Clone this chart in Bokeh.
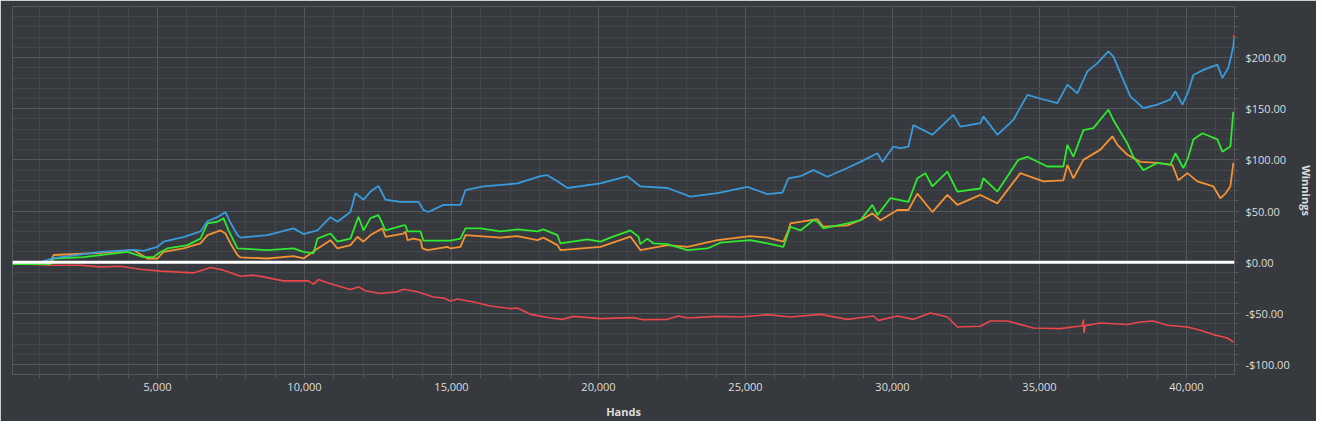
from bokeh.plotting import figure
from bokeh.models import (Range1d, SingleIntervalTicker, NumeralTickFormatter,
                          CustomJSTickFormatter, Span)
from bokeh.embed import file_html
from bokeh.resources import INLINE

# ---------------- data (hands, winnings in $) ----------------
hands_blue = [68, 1020, 1462, 3061, 4183, 4523, 5000, 5203, 5884, 6462, 6700, 7040, 7312, 7482,
              7720, 7823, 8741, 9625, 9965, 10441, 10883, 11121, 11563, 11733, 12006, 12244,
              12516, 12754, 13264, 13876, 14046, 14216, 14726, 15305, 15475, 16087, 17243,
              18025, 18263, 18603, 18944, 20066, 20984, 21426, 22345, 23127, 24045, 25065,
              25746, 26256, 26460, 26868, 27310, 27786, 28466, 28909, 29487, 29657, 30031,
              30269, 30541, 30711, 31357, 32071, 32310, 32990, 33092, 33568, 34112, 34588,
              35132, 35608, 35949, 36289, 36629, 36969, 37343, 37513, 37853, 38091, 38533,
              39009, 39452, 39622, 39860, 40064, 40234, 40574, 41050, 41220, 41424, 41492,
              41594, 41628]
won_blue = [0, 0, 4, 10, 12, 11, 15, 20, 24.5, 30, 40, 44, 49, 38.5, 26.5, 24, 26.5, 33, 27.5,
            31, 44, 39.5, 49, 67.5, 61, 69, 74.5, 61, 59, 59, 51, 49, 56, 56, 70.5, 74, 77, 84,
            85, 79, 72.5, 77, 84, 74, 72.5, 64, 67.5, 73.5, 66.5, 68, 82, 84, 90, 83.5, 92, 98,
            106.5, 98, 113, 111.5, 113, 134, 124.5, 144, 132.5, 136, 142.5, 124.5, 139, 163.5,
            159, 155.5, 173.5, 165, 186.5, 194.5, 206, 201, 178, 162, 150.5, 154, 159, 167,
            154, 167, 183, 188, 193, 180, 190, 198, 211, 221]

hands_green = [68, 1360, 1462, 2483, 3979, 4523, 4863, 5102, 5340, 6020, 6462, 6700, 7040,
               7244, 7414, 7720, 8741, 9625, 9965, 10305, 10441, 10883, 11121, 11563, 11835,
               12006, 12244, 12516, 12754, 13366, 13434, 13502, 13944, 14046, 14964, 15305,
               15475, 15985, 16665, 17243, 17923, 18127, 18603, 18706, 19624, 20066, 20406,
               21086, 21358, 21426, 21664, 21868, 22345, 23025, 23705, 24147, 25167, 25746,
               26290, 26426, 26528, 26868, 27310, 27446, 27650, 28466, 28909, 29317, 29487,
               29929, 30541, 30847, 31119, 31357, 31867, 32207, 32990, 33092, 33568, 34282,
               34588, 35268, 35813, 35949, 36153, 36493, 36833, 37343, 37513, 37989, 38193,
               38533, 39009, 39452, 39622, 39894, 40064, 40234, 40540, 41050, 41220, 41492,
               41560, 41594]
won_green = [-2, -2, 3.6, 5, 10, 5, 5, 10, 13.4, 16.7, 23, 38, 39.5, 43, 31, 13.4, 11.8, 13.4,
             10, 8.5, 23, 28, 20, 23, 44.4, 31, 43, 46, 31, 36, 36, 30, 30, 21, 21, 23, 33, 33,
             30, 32, 30, 32, 26.5, 18.3, 22.3, 20, 24, 31, 25, 17.6, 23, 18.3, 17.6, 11.8, 13.4,
             19, 21.5, 18.3, 15, 26.5, 34.6, 31, 41, 39.5, 33, 38, 41, 56, 46, 62.5, 59, 82, 87,
             74, 88.5, 69, 72, 82, 69, 100, 103, 93.5, 93.5, 114.7, 103, 129, 131, 149, 139,
             116, 103, 90, 97, 95, 106.5, 92, 103, 120, 126, 120, 108, 113, 136, 147]

hands_orange = [68, 1360, 1462, 3061, 4183, 4421, 4659, 5000, 5203, 5884, 6462, 6700, 7142,
                7312, 7482, 7720, 7823, 8741, 9625, 9965, 10373, 10883, 11121, 11563, 11801,
                12006, 12244, 12652, 12754, 13366, 13434, 13502, 13706, 13944, 14012, 14182,
                14862, 14964, 15305, 15475, 16665, 17243, 17923, 18127, 18603, 18706, 20066,
                21086, 21426, 22345, 23025, 24045, 25167, 25746, 26290, 26460, 26528, 27446,
                27650, 28466, 28909, 29317, 29589, 30167, 30541, 30847, 31357, 31867, 32207,
                32990, 33568, 34350, 35132, 35813, 35949, 36153, 36493, 37071, 37479, 37649,
                37989, 38431, 39009, 39520, 39724, 40030, 40370, 40914, 41152, 41322, 41492,
                41594]
won_orange = [0, 0.5, 7, 9, 11.8, 7.8, 3.6, 3.6, 10, 13.4, 18.3, 26.5, 31, 28, 18.3, 7, 4.6,
              3.6, 5.9, 3.6, 11.8, 21.5, 13.4, 16.7, 24.8, 20, 26.5, 33, 24.8, 28, 30, 21.5, 23,
              21.5, 13.4, 11.8, 15, 13.4, 15, 26.5, 24, 25.5, 21.5, 24, 16.7, 11.8, 15, 25, 11.8,
              16.7, 15, 21.5, 25.5, 24, 20, 31, 38, 42, 34.6, 36, 41, 47.7, 41, 51, 51, 67, 49,
              65.7, 56, 65.7, 57.5, 87, 79, 80, 95, 82, 100, 110, 123, 114.7, 105, 98, 97, 95,
              80, 87, 79, 74, 62.5, 67, 74, 97]

hands_red = [68, 1360, 2381, 3061, 3741, 4421, 5102, 6224, 6802, 7244, 7822, 8264, 8605, 9285,
             10135, 10305, 10475, 10883, 11121, 11563, 11835, 12074, 12584, 13162, 13366, 13842,
             14386, 14726, 14964, 15202, 15747, 16325, 17005, 17243, 17685, 18365, 18774, 19148,
             20066, 21188, 21528, 22345, 22719, 23025, 24045, 24827, 25746, 26528, 27548, 28466,
             29351, 29521, 30167, 30711, 31289, 31867, 32207, 32990, 33330, 33908, 34792, 35711,
             36391, 36459, 36493, 36510, 36561, 37071, 37989, 38431, 38873, 39350, 40030, 40472,
             40914, 41390, 41594]
won_red = [-1.3, -3, -3, -4.6, -4, -7, -8.8, -10.5, -5.2, -7.8, -13.7, -12.7, -14.4, -18.3,
           -18.3, -21.5, -17, -21, -23, -26.8, -24.2, -28, -30.7, -29, -26.5, -29, -34, -35, -38,
           -36, -39, -42.8, -45.4, -44.8, -51, -54.6, -55.9, -53, -55.2, -54.2, -56.2, -55.9,
           -52.6, -54.6, -53, -53.6, -51.3, -53.6, -51, -55.9, -52.6, -56.9, -52.6, -55.9, -49.7,
           -53.6, -63.4, -62.7, -57.5, -57.5, -64.4, -65, -62.4, -62, -56, -69, -62, -59.5, -61,
           -58.5, -57.5, -61.7, -63.4, -66.6, -70.8, -74.1, -78]

# ---------------- style ----------------
BG = "#36393d"
GRID_MINOR = "#43464a"
GRID_MAJOR = "#54575b"
TEXT = "#dedede"
FONT = "Open Sans"

p = figure(frame_width=1222, frame_height=368,
           x_range=Range1d(68, 41633), y_range=Range1d(-109.8, 249.9),
           output_backend="svg", toolbar_location=None, y_axis_location="right",
           min_border_left=12, min_border_top=6, min_border_right=0, min_border_bottom=0,
           background_fill_color=BG, border_fill_color=BG,
           outline_line_color=GRID_MAJOR)

p.xaxis.ticker = SingleIntervalTicker(interval=5000, num_minor_ticks=5)
p.yaxis.ticker = SingleIntervalTicker(interval=50, num_minor_ticks=5)
p.xaxis.formatter = NumeralTickFormatter(format="0,0")
p.yaxis.formatter = CustomJSTickFormatter(
    code="return (tick < 0 ? '-' : '') + '$' + Math.abs(tick).toFixed(2);")

for ax in (p.xaxis[0], p.yaxis[0]):
    ax.axis_line_color = None
    ax.major_tick_line_color = GRID_MAJOR
    ax.minor_tick_line_color = GRID_MAJOR
    ax.major_tick_in = 0
    ax.minor_tick_in = 0
    ax.major_tick_out = 4
    ax.minor_tick_out = 4
    ax.major_label_text_color = TEXT
    ax.major_label_text_font = FONT
    ax.major_label_text_font_size = "11px"
    ax.axis_label_text_color = TEXT
    ax.axis_label_text_font = FONT
    ax.axis_label_text_font_size = "11px"
    ax.axis_label_text_font_style = "bold"

p.xaxis.axis_label = "Hands"
p.yaxis.axis_label = "Winnings"
p.xaxis.major_label_standoff = 4
p.xaxis.axis_label_standoff = 10
p.yaxis.major_label_standoff = 7
p.yaxis.axis_label_standoff = 6

for g in (p.xgrid[0], p.ygrid[0]):
    g.grid_line_color = GRID_MAJOR
    g.grid_line_width = 1
    g.minor_grid_line_color = GRID_MINOR
    g.minor_grid_line_width = 1

p.add_layout(Span(location=0, dimension="width", line_color="white", line_width=3))

p.line(hands_red, won_red, line_color="#e8474c", line_width=1.6)
p.line(hands_orange, won_orange, line_color="#f39234", line_width=1.8)
p.line(hands_green, won_green, line_color="#2fe82f", line_width=1.8)
p.line(hands_blue, won_blue, line_color="#3a9bdc", line_width=1.8)
p.scatter([hands_blue[-1]], [won_blue[-1]], size=2.5, color="#ff2a2a")

html = file_html(p, INLINE)
html = html.replace("<body>", '<body style="background:%s">' % BG, 1)
open("out.html", "w").write(html)
